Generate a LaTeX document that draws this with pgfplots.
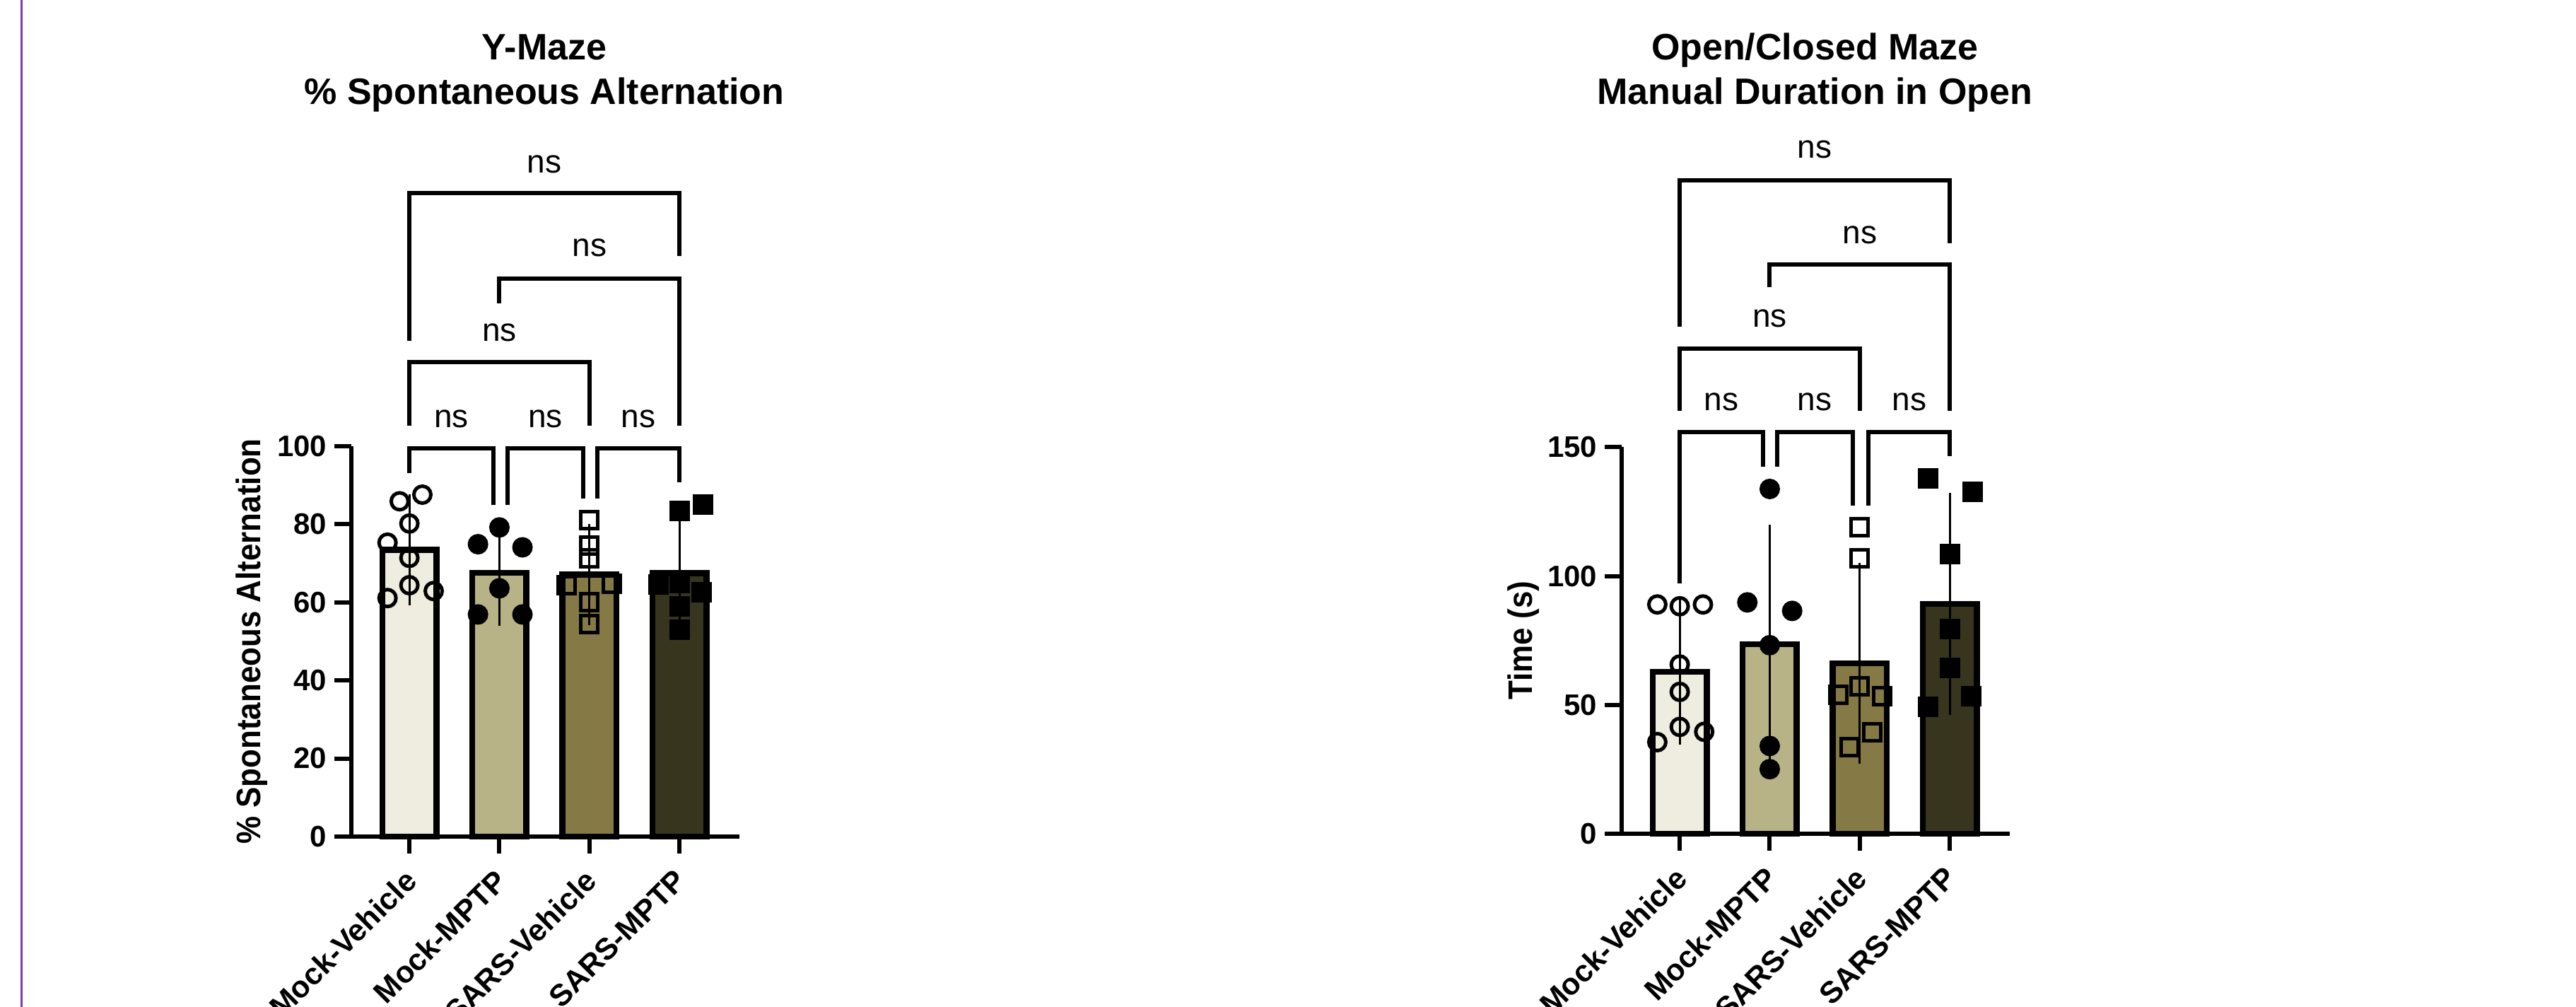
\documentclass[border=0pt]{standalone}
\usepackage{fontspec}
\setmainfont{Liberation Sans}
\usepackage{graphicx}
\usepackage{pgfplots}
\pgfplotsset{compat=1.18}
\definecolor{cA}{HTML}{EFEDE0}
\definecolor{cB}{HTML}{B8B287}
\definecolor{cC}{HTML}{857A45}
\definecolor{cD}{HTML}{38351F}
\definecolor{purp}{HTML}{7B3FA8}

\pgfplotsset{
  gp/.style={
    scale only axis,
    width=137.2pt,
    xmin=-0.645, xmax=3.665,
    ymin=0,
    clip=false,
    axis lines=left,
    axis line style={-, line width=1.5pt, black},
    tick align=outside,
    major tick length=6pt,
    tick style={line width=1.5pt, black},
    xtick={0,1,2,3},
    xticklabels={Mock-Vehicle,Mock-MPTP,SARS-Vehicle,SARS-MPTP},
    xticklabel style={font=\bfseries\fontsize{10.75}{12}\selectfont, xshift=-2.3pt, yshift=-4.7pt, rotate=45, anchor=north east, inner sep=0pt},
    yticklabel style={font=\bfseries\fontsize{10.5}{12}\selectfont, inner sep=0pt, anchor=east, xshift=-2.5pt},
    /pgf/number format/assume math mode=true,
  },
  gpbar/.style={ybar, bar width=0.6, bar shift=0pt, draw=black, line width=2.1pt,
      /pgfplots/error bars/y dir=both, /pgfplots/error bars/y explicit,
      /pgfplots/error bars/error bar style={line width=0.7pt, black},
      /pgfplots/error bars/error mark options={line width=0.7pt, black, mark size=5.4pt}},
  pts/.style={only marks, mark size=3pt, mark options={line width=1.25pt, black}},
}
\tikzset{
  bk/.style={line width=1.5pt, black},
  ns/.style={font=\fontsize{11.5}{12}\selectfont, anchor=base},
}

\begin{document}
\begin{tikzpicture}
\useasboundingbox (0,0) rectangle (911pt,356pt);
\draw[purp, line width=0.75pt] (7.5pt,0pt) -- (7.5pt,356pt);

% ---------------- Y-Maze ----------------
\begin{axis}[gp, at={(124.25pt,60.28pt)}, anchor=south west, height=137.95pt,
  ymax=100, ytick={0,20,40,60,80,100}]
\addplot[fill=cA, gpbar] coordinates {(0,73.5) +- (0,10.3)};
\addplot[fill=cB, gpbar] coordinates {(1,67.6) +- (0,9.7)};
\addplot[fill=cC, gpbar] coordinates {(2,67.1) +- (0,9.0)};
\addplot[fill=cD, gpbar] coordinates {(3,67.5) +- (0,12.1)};
\addplot[pts, mark=o] coordinates {(-0.243,75.3) (-0.108,85.9) (0.144,87.6) (0,80.2) (0,71.4) (0,64.4) (-0.243,61.1) (0.27,62.9)};
\addplot[pts, mark=*] coordinates {(0.762,74.9) (1,79.2) (1.256,74.1) (1,63.6) (0.762,56.9) (1.256,56.9)};
\addplot[pts, mark=square] coordinates {(2,81.0) (2,74.6) (2,71.2) (1.744,64.4) (2.247,64.7) (2,60.0) (2,54.4)};
\addplot[pts, mark=square*] coordinates {(3,83.4) (3.26,85.1) (2.766,64.6) (3,64.9) (3.247,62.6) (3,59.0) (3,52.9)};
% significance brackets
\draw[bk] (axis cs:0,93.2) -- (axis cs:0,99.5) -- (axis cs:0.93,99.5) -- (axis cs:0.93,84.9);
\draw[bk] (axis cs:1.09,84.9) -- (axis cs:1.09,99.5) -- (axis cs:1.93,99.5) -- (axis cs:1.93,86.6);
\draw[bk] (axis cs:2.09,86.6) -- (axis cs:2.09,99.5) -- (axis cs:3,99.5) -- (axis cs:3,90.7);
\draw[bk] (axis cs:0,105.2) -- (axis cs:0,121.5) -- (axis cs:2,121.5) -- (axis cs:2,105.2);
\draw[bk] (axis cs:1,136.7) -- (axis cs:1,143.0) -- (axis cs:3,143.0) -- (axis cs:3,105.2);
\draw[bk] (axis cs:0,127.0) -- (axis cs:0,164.9) -- (axis cs:3,164.9) -- (axis cs:3,148.8);
\node[ns] at (axis cs:0.465,104.8) {ns};
\node[ns] at (axis cs:1.51,104.8) {ns};
\node[ns] at (axis cs:2.545,104.8) {ns};
\node[ns] at (axis cs:1,127.0) {ns};
\node[ns] at (axis cs:2,148.7) {ns};
\node[ns] at (axis cs:1.5,170.0) {ns};
\end{axis}

% ---------------- Open/Closed Maze ----------------
\begin{axis}[gp, at={(573.5pt,61.2pt)}, anchor=south west, height=136.7pt,
  ymax=150, ytick={0,50,100,150}]
\addplot[fill=cA, gpbar] coordinates {(0,62.9) +- (0,22.3)};
\addplot[fill=cB, gpbar] coordinates {(1,73.5) +- (0,40.5)};
\addplot[fill=cC, gpbar] coordinates {(2,66.2) +- (0,33.0)};
\addplot[fill=cD, gpbar] coordinates {(3,89.2) +- (0,37.1)};
\addplot[pts, mark=o] coordinates {(-0.249,89.0) (0,88.3) (0.258,89.0) (0,65.7) (0,55.1) (0,41.5) (-0.249,35.6) (0.272,39.6)};
\addplot[pts, mark=*] coordinates {(1,133.8) (0.751,89.8) (1.249,86.5) (1,73.2) (1,34.1) (1,25.1)};
\addplot[pts, mark=square] coordinates {(2,118.9) (2,107.0) (2,57.3) (1.76,53.9) (2.25,53.3) (2.14,39.3) (1.89,33.7)};
\addplot[pts, mark=square*] coordinates {(2.76,137.8) (3.254,132.6) (3,108.5) (3,79.4) (3,64.4) (2.76,49.2) (3.24,53.3)};
% significance brackets
\draw[bk] (axis cs:0,97.1) -- (axis cs:0,156) -- (axis cs:0.924,156) -- (axis cs:0.924,142.5);
\draw[bk] (axis cs:1.083,142.5) -- (axis cs:1.083,156) -- (axis cs:1.926,156) -- (axis cs:1.926,127.4);
\draw[bk] (axis cs:2.093,127.4) -- (axis cs:2.093,156) -- (axis cs:3,156) -- (axis cs:3,146.6);
\draw[bk] (axis cs:0,164.2) -- (axis cs:0,188.3) -- (axis cs:2,188.3) -- (axis cs:2,164.2);
\draw[bk] (axis cs:1,212.0) -- (axis cs:1,220.8) -- (axis cs:3,220.8) -- (axis cs:3,164.2);
\draw[bk] (axis cs:0,196.7) -- (axis cs:0,253.4) -- (axis cs:3,253.4) -- (axis cs:3,229.1);
\node[ns] at (axis cs:0.46,164.2) {ns};
\node[ns] at (axis cs:1.5,164.2) {ns};
\node[ns] at (axis cs:2.55,164.2) {ns};
\node[ns] at (axis cs:1,196.7) {ns};
\node[ns] at (axis cs:2,229.1) {ns};
\node[ns] at (axis cs:1.5,262.2) {ns};
\end{axis}

% titles
\node[font=\bfseries\fontsize{13}{15}\selectfont, anchor=base] at (192.5pt,334.8pt) {Y-Maze};
\node[font=\bfseries\fontsize{13}{15}\selectfont, anchor=base] at (192.5pt,319.2pt) {\% Spontaneous Alternation};
\node[font=\bfseries\fontsize{13}{15}\selectfont, anchor=base] at (641.8pt,334.8pt) {Open/Closed Maze};
\node[font=\bfseries\fontsize{13}{15}\selectfont, anchor=base] at (641.8pt,319.2pt) {Manual Duration in Open};
% y labels
\node[rotate=90, anchor=base, font=\bfseries\fontsize{12}{14}\selectfont] at (92.2pt,129.25pt) {\scalebox{0.915}[1]{\% Spontaneous Alternation}};
\node[rotate=90, anchor=base, font=\bfseries\fontsize{12}{14}\selectfont] at (541.9pt,129.6pt) {\scalebox{0.915}[1]{Time (s)}};
\end{tikzpicture}
\end{document}
